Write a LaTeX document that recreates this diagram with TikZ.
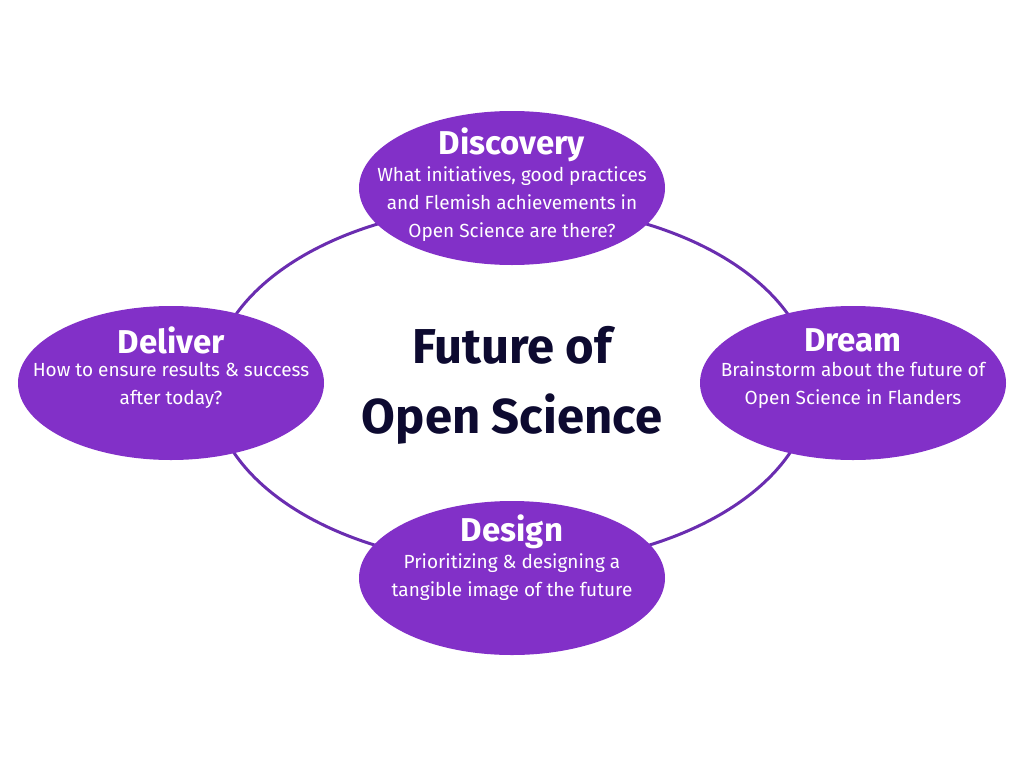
\documentclass[tikz,border=0pt]{standalone}
\usepackage{fontspec}
\setmainfont{Fira Sans}
\usetikzlibrary{shapes.geometric}
\definecolor{pur}{HTML}{8230C8}
\definecolor{ring}{HTML}{6A2DB0}
\definecolor{navy}{HTML}{0D0A30}
\begin{document}
\begin{tikzpicture}[x=1pt,y=-1pt,
  phase/.style={ellipse,fill=pur,minimum width=306pt,minimum height=154pt,inner sep=0pt},
  ttl/.style={text=white,font=\fontsize{33}{36}\selectfont\bfseries},
  body/.style={text=white,align=center,font=\fontsize{19}{28}\selectfont}]
\useasboundingbox (0,0) rectangle (1024,768);
\node[draw=ring,line width=3pt,ellipse,minimum width=600pt,minimum height=360pt] (ring) at (512,385) {};
\node[phase] (disc) at (512,188) {};
\node[phase] (deli) at (171,383) {};
\node[phase] (drea) at (853,383) {};
\node[phase] (desi) at (512,578) {};
\node[ttl] (t1) at (512,145) {Discovery};
\node[body] (b1) at (512,204) {What initiatives, good practices\\and Flemish achievements in\\Open Science are there?};
\node[ttl] (t2) at (171,340) {Deliver};
\node[body] (b2) at (171,385) {How to ensure results \& success\\after today?};
\node[ttl] (t3) at (853,340) {Dream};
\node[body] (b3) at (853,385) {Brainstorm about the future of\\Open Science in Flanders};
\node[ttl] (t4) at (512,532) {Design};
\node[body] (b4) at (512,577) {Prioritizing \& designing a\\tangible image of the future};
\node[text=navy,align=center,font=\fontsize{49}{70}\selectfont\bfseries] (c) at (512,385) {Future of\\Open Science};
\end{tikzpicture}
\end{document}
